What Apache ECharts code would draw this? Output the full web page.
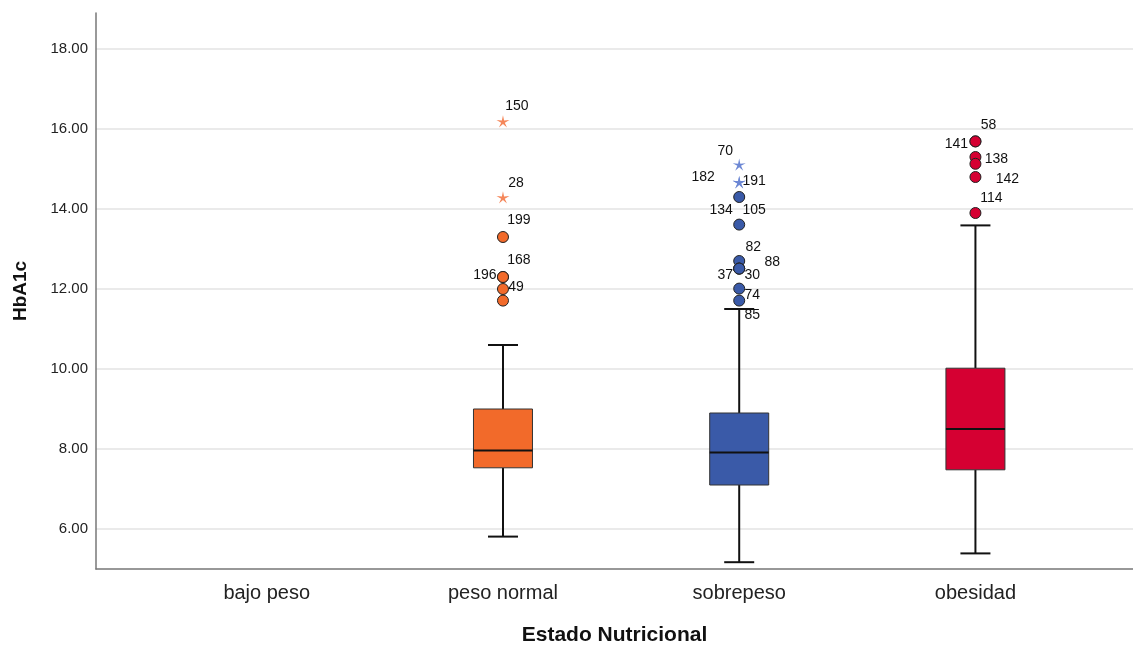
<!DOCTYPE html>
<html>
<head>
<meta charset="utf-8">
<script src="https://cdn.jsdelivr.net/npm/echarts@6/dist/echarts.min.js"></script>
<style>
  html, body { margin: 0; padding: 0; background: #fff; }
  #chart { width: 1133px; height: 645px; }
</style>
</head>
<body>
<div id="chart"></div>
<script>
// HbA1c by nutritional status (box plot with labelled outliers)
const categories = ['bajo peso', 'peso normal', 'sobrepeso', 'obesidad'];

// five-number summaries: [category index, min, Q1, median, Q3, max]
const boxStats = [
  [1, 5.81, 7.53, 7.96, 9.00, 10.60],
  [2, 5.17, 7.10, 7.91, 8.90, 11.50],
  [3, 5.39, 7.48, 8.50, 10.02, 13.59]
];

// outliers (circles): [category index, HbA1c, case number]
const outliers = [
  [1, 13.30, '199'], [1, 12.30, '168'], [1, 12.30, '196'], [1, 12.00, '49'], [1, 11.71, ''],
  [2, 14.30, '134'], [2, 13.61, '105'], [2, 12.70, '82'], [2, 12.51, '88'], [2, 12.51, '37'],
  [2, 12.51, '30'], [2, 12.01, '74'], [2, 11.71, '85'],
  [3, 15.69, '58'], [3, 15.69, '141'], [3, 15.30, '138'], [3, 15.13, ''], [3, 14.80, '142'],
  [3, 13.90, '114']
];

// extreme values (stars): [category index, HbA1c, case number]
const extremes = [
  [1, 16.19, '150'], [1, 14.29, '28'],
  [2, 15.11, '70'], [2, 14.67, '191'], [2, 14.67, '182']
];

const yTicks = [6, 8, 10, 12, 14, 16, 18];

// styling
const FONT = '"Liberation Sans", Arial, Helvetica, sans-serif';
const groupColors = ['#888888', '#F26A2A', '#3A5AA8', '#D50032'];
const starColors = ['#999999', '#F5875A', '#6C87D4', '#E0405F'];
const STAR = 'path://M50 0 L58.2 38.7 L97.6 34.5 L63.3 54.3 L79.4 90.5 L50 64 L20.6 90.5 L36.7 54.3 L2.4 34.5 L41.8 38.7 Z';

// where each case-number label sits relative to its marker (px)
const labelOffset = {
  '150': [14, -15], '28': [13, -14], '199': [16, -17], '168': [16, -17], '196': [-18, -2], '49': [13, -2],
  '70': [-14, -13], '191': [15, -1], '182': [-36, -5], '134': [-18, 13], '105': [15, -14],
  '82': [14, -14], '88': [33, -6], '37': [-14, 7], '30': [13, 7], '74': [13, 7], '85': [13, 15],
  '58': [13, -16], '141': [-19, 3], '138': [21, 2], '142': [32, 2], '114': [16, -15]
};

function pointItems(list, colors) {
  return list.map(([c, v, id]) => ({
    value: [c, v],
    name: id,
    itemStyle: { color: colors[c], opacity: 1 },
    label: { show: !!id, offset: labelOffset[id] || [0, 0] }
  }));
}

const pointLabel = {
  position: 'inside',
  formatter: '{b}',
  fontFamily: FONT,
  fontSize: 14,
  color: '#111',
  opacity: 1
};

const chart = echarts.init(document.getElementById('chart'), null, { renderer: 'canvas' });

chart.setOption({
  animation: false,
  backgroundColor: '#ffffff',
  grid: { left: 96, right: 0, top: 13, bottom: 76, containLabel: false, outerBoundsMode: 'none' },
  xAxis: {
    type: 'value',
    min: -0.7228,
    max: 3.667,
    name: 'Estado Nutricional',
    nameLocation: 'middle',
    nameGap: 56,
    nameTextStyle: { fontFamily: FONT, fontSize: 21, fontWeight: 'bold', color: '#111' },
    axisLine: { show: true, onZero: false, lineStyle: { color: '#777', width: 1.5 } },
    axisTick: { show: false },
    splitLine: { show: false },
    axisLabel: {
      customValues: categories.map((c, i) => i),
      formatter: v => categories[Math.round(v)] || '',
      fontFamily: FONT,
      fontSize: 20,
      color: '#222',
      margin: 14
    }
  },
  yAxis: {
    type: 'value',
    min: 5,
    max: 18.9,
    name: 'HbA1c',
    nameLocation: 'middle',
    nameRotate: 90,
    nameGap: 66,
    nameTextStyle: { fontFamily: FONT, fontSize: 19, fontWeight: 'bold', color: '#111' },
    axisLine: { show: true, onZero: false, lineStyle: { color: '#777', width: 1.5 } },
    axisTick: { show: false },
    splitLine: { show: false },
    axisLabel: {
      customValues: yTicks,
      formatter: v => Number(v).toFixed(2),
      fontFamily: FONT,
      fontSize: 15,
      color: '#222',
      margin: 8
    }
  },
  series: [
    {
      // horizontal reference lines at each labelled tick, kept beneath the boxes
      type: 'line',
      data: [],
      z: 0,
      silent: true,
      markLine: {
        z: 0,
        silent: true,
        symbol: ['none', 'none'],
        label: { show: false },
        lineStyle: { color: '#e3e3e3', width: 1.5, type: 'solid' },
        data: yTicks.map(t => ({ yAxis: t }))
      }
    },
    {
      type: 'custom',
      z: 2,
      encode: { x: 0, y: [1, 2, 3, 4, 5] },
      data: boxStats,
      renderItem(params, api) {
        const i = api.value(0);
        const at = k => api.coord([i, api.value(k)]);
        const x = at(3)[0];
        const yMin = at(1)[1], yQ1 = at(2)[1], yMed = at(3)[1], yQ3 = at(4)[1], yMax = at(5)[1];
        const hw = 29.5, cw = 15;
        const ln = (x1, y1, x2, y2, w) => ({
          type: 'line',
          shape: { x1, y1, x2, y2 },
          style: { stroke: '#111', lineWidth: w }
        });
        return {
          type: 'group',
          children: [
            ln(x, yMax, x, yQ3, 2),
            ln(x, yQ1, x, yMin, 2),
            ln(x - cw, yMax, x + cw, yMax, 2),
            ln(x - cw, yMin, x + cw, yMin, 2),
            {
              type: 'rect',
              shape: { x: x - hw, y: yQ3, width: hw * 2, height: yQ1 - yQ3 },
              style: { fill: groupColors[i], stroke: '#333', lineWidth: 1 }
            },
            ln(x - hw, yMed, x + hw, yMed, 2)
          ]
        };
      }
    },
    {
      type: 'scatter',
      z: 3,
      symbol: 'circle',
      symbolSize: 11,
      itemStyle: { borderColor: '#222', borderWidth: 1, opacity: 1 },
      label: pointLabel,
      data: pointItems(outliers, groupColors)
    },
    {
      type: 'scatter',
      z: 3,
      symbol: STAR,
      symbolSize: 13,
      symbolKeepAspect: true,
      itemStyle: { opacity: 1 },
      label: pointLabel,
      data: pointItems(extremes, starColors)
    }
  ]
});
</script>
</body>
</html>
